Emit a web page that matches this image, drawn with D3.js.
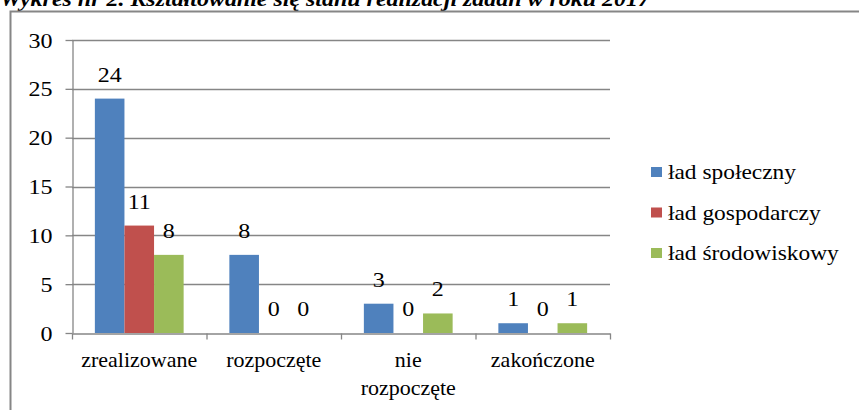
<!DOCTYPE html>
<html>
<head>
<meta charset="utf-8">
<script src="https://cdn.jsdelivr.net/npm/d3@7"></script>
<style>
  body { margin: 0; background: #fff; }
  svg { display: block; }
  text { font-family: "Liberation Serif", "DejaVu Serif", serif; fill: #000; }
</style>
</head>
<body>
<svg width="859" height="410"></svg>
<script>
// data
const categories = ['zrealizowane', 'rozpoczęte', 'nie rozpoczęte', 'zakończone'];
const series = ['ład społeczny', 'ład gospodarczy', 'ład środowiskowy'];
const colors = ['#4F81BD', '#C0504D', '#9BBB59'];
const spoleczny = [24, 8, 3, 1];
const gospodarczy = [11, 0, 0, 0];
const srodowiskowy = [8, 0, 2, 1];
const yTicks = [0, 5, 10, 15, 20, 25, 30];

const values = [spoleczny, gospodarczy, srodowiskowy];

const svg = d3.select('svg');
const [x0, x1, y0, y1] = [72, 610, 333, 40];

// the reference text is a bit wider than Liberation Serif, stretch it
function stretched(sel, px, py, sx) {
  return sel.attr('x', 0).attr('y', 0)
    .attr('transform', `translate(${px},${py}) scale(${sx},1)`);
}

// title, cut off at the top
svg.append('text')
  .attr('x', 0)
  .attr('y', 6)
  .attr('textLength', 650)
  .attr('lengthAdjust', 'spacingAndGlyphs')
  .style('font-weight', 'bold')
  .style('font-style', 'italic')
  .style('font-size', '20px')
  .text('Wykres nr 2. Kształtowanie się stanu realizacji zadań w roku 2017');

// outer frame
svg.append('rect')
  .attr('x', 10.5)
  .attr('y', 11.5)
  .attr('width', 900)
  .attr('height', 500)
  .attr('fill', 'none')
  .attr('stroke', '#868686')
  .attr('stroke-width', 2);

const x = d3.scaleBand()
  .domain(categories)
  .range([x0, x1]);

const y = d3.scaleLinear()
  .domain([0, 30])
  .range([y0, y1]);

// grid
svg.append('g')
  .selectAll('line')
  .data(yTicks.filter(d => d > 0))
  .join('line')
  .attr('x1', x0)
  .attr('x2', x1)
  .attr('y1', d => Math.round(y(d)) + 0.5)
  .attr('y2', d => Math.round(y(d)) + 0.5)
  .attr('stroke', '#868686')
  .attr('stroke-width', 1.3);

// y axis
const yAxis = svg.append('g')
  .attr('transform', `translate(${x0 + 0.5}, 0)`)
  .call(d3.axisLeft(y).tickValues(yTicks).tickSize(7).tickPadding(12).tickSizeOuter(0));
yAxis.selectAll('text')
  .style('font-size', '20px')
  .attr('font-family', null)
  .attr('dy', null)
  .each(function () { stretched(d3.select(this), -20, 7, 1.2); });

// x axis
const xAxis = svg.append('g')
  .attr('transform', `translate(0, ${y0 + 0.5})`)
  .call(d3.axisBottom(x).tickSize(0).tickFormat(''));
xAxis.append('g')
  .selectAll('line')
  .data(d3.range(categories.length + 1))
  .join('line')
  .attr('x1', i => x0 + i * x.bandwidth() + 0.5)
  .attr('x2', i => x0 + i * x.bandwidth() + 0.5)
  .attr('y1', 0)
  .attr('y2', 6)
  .attr('stroke', '#868686')
  .attr('stroke-width', 1.3);
svg.selectAll('.domain').attr('stroke', '#868686').attr('stroke-width', 1.3);
svg.selectAll('.tick line').attr('stroke', '#868686').attr('stroke-width', 1.3);

// category labels
categories.forEach(c => {
  const words = c === 'nie rozpoczęte' ? ['nie', 'rozpoczęte'] : [c];
  words.forEach((w, i) => {
    const t = svg.append('text')
      .attr('text-anchor', 'middle')
      .style('font-size', '20px')
      .text(w);
    stretched(t, x(c) + x.bandwidth() / 2, 367 + i * 28, 1.1);
  });
});

const inner = d3.scaleBand()
  .domain(series)
  .range([0, x.bandwidth() * 0.66]);
const pad = x.bandwidth() * 0.17;

series.forEach((s, si) => {
  const g = svg.append('g');
  g.selectAll('rect')
    .data(values[si])
    .join('rect')
    .attr('x', (d, i) => x(categories[i]) + pad + inner(s))
    .attr('y', d => y(d))
    .attr('width', inner.bandwidth())
    .attr('height', d => y0 - y(d))
    .attr('fill', colors[si]);
  g.selectAll('text')
    .data(values[si])
    .join('text')
    .attr('text-anchor', 'middle')
    .style('font-size', '20px')
    .text(d => d)
    .each(function (d, i) {
      stretched(d3.select(this),
        x(categories[i]) + pad + inner(s) + inner.bandwidth() / 2, y(d) - 17, 1.2);
    });
});

// legend
const legend = svg.append('g');
series.forEach((s, i) => {
  const ly = 172 + i * 40.5;
  legend.append('rect')
    .attr('x', 651)
    .attr('y', ly - 5)
    .attr('width', 11)
    .attr('height', 10)
    .attr('fill', colors[i]);
  const t = legend.append('text')
    .style('font-size', '20px')
    .text(s);
  stretched(t, 668, ly + 7, 1.17);
});
</script>
</body>
</html>
